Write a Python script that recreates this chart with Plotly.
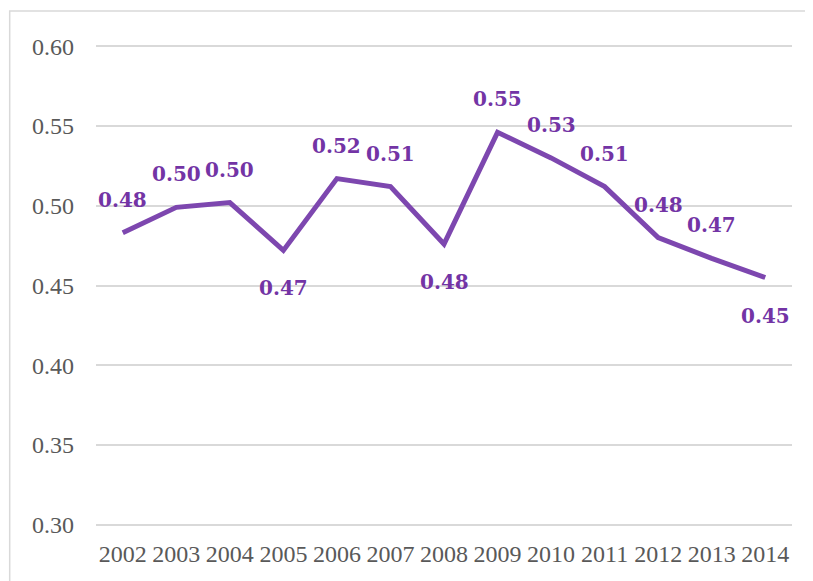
import plotly.graph_objects as go

anos = ['2002', '2003', '2004', '2005', '2006', '2007', '2008',
        '2009', '2010', '2011', '2012', '2013', '2014']
valores = [0.483, 0.499, 0.502, 0.472, 0.517, 0.512, 0.476,
           0.546, 0.530, 0.512, 0.480, 0.467, 0.455]
rotulos = ['0.48', '0.50', '0.50', '0.47', '0.52', '0.51', '0.48',
           '0.55', '0.53', '0.51', '0.48', '0.47', '0.45']
# rótulos abaixo da linha nestes anos
abaixo = ['2005', '2008', '2014']

COR_LINHA = '#7D47AF'
COR_ROTULO = '#7334A5'
COR_TEXTO = '#595959'
COR_GRADE = '#D9D9D9'

fig = go.Figure()

fig.add_trace(go.Scatter(
    x=anos,
    y=valores,
    mode='lines',
    line=dict(color=COR_LINHA, width=5),
    hoverinfo='x+y',
    showlegend=False
))

# Rótulos de dados (posição pelo índice da categoria)
for i, (ano, valor, texto) in enumerate(zip(anos, valores, rotulos)):
    fig.add_annotation(
        x=i, y=valor, text=texto, showarrow=False,
        yshift=-38 if ano in abaixo else 33,
        font=dict(family='DejaVu Serif', size=20, color=COR_ROTULO, weight='bold')
    )

# Borda do gráfico
fig.add_shape(
    type='rect', xref='paper', yref='paper',
    x0=-0.124, x1=1.2, y0=-0.3, y1=1.066,
    line=dict(color='#D9D9D9', width=1.5), layer='below'
)

fig.update_layout(
    width=813, height=581,
    margin=dict(l=88, r=29, t=35, b=61),
    plot_bgcolor='white',
    paper_bgcolor='white',
    xaxis=dict(
        type='category',
        range=[-0.5, len(anos) - 0.5],
        showgrid=False, showline=False, zeroline=False,
        ticks='', ticklabelstandoff=9,
        tickfont=dict(family='Liberation Serif', size=24, color=COR_TEXTO)
    ),
    yaxis=dict(
        range=[0.298, 0.602],
        tickvals=[0.30, 0.35, 0.40, 0.45, 0.50, 0.55, 0.60],
        tickformat='.2f',
        showgrid=True, gridcolor=COR_GRADE, gridwidth=1.5,
        zeroline=False, showline=False,
        ticks='', ticklabelstandoff=21,
        tickfont=dict(family='Liberation Serif', size=24, color=COR_TEXTO)
    )
)

fig.write_html('out.html')
